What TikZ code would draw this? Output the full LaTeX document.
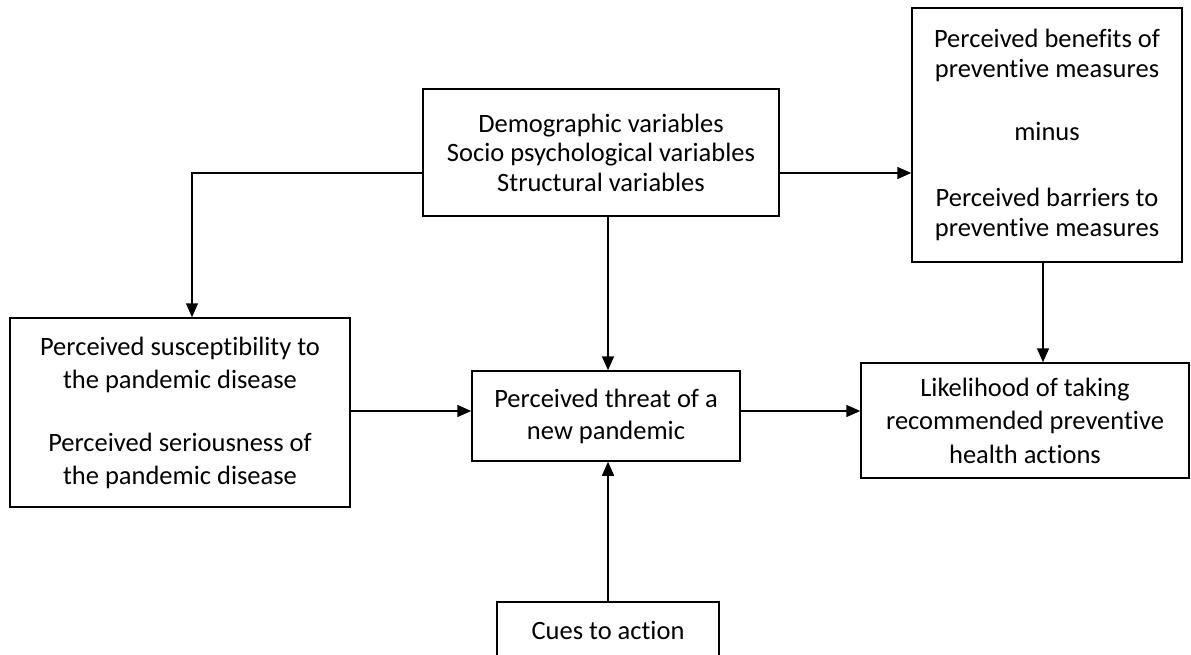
\documentclass[tikz,border=0pt]{standalone}
\usepackage{fontspec}
\setmainfont{Carlito}[Ligatures={NoCommon,NoContextual}]
\usetikzlibrary{arrows.meta}
\begin{document}
\begin{tikzpicture}[x=1pt,y=-1pt,
  box/.style={draw,line width=1.5pt,inner sep=0pt,align=center,font=\fontsize{26.5}{32}\selectfont},
  arr/.style={line width=1.5pt,-{Triangle[length=14pt,width=12pt]}}]
\useasboundingbox (0,0) rectangle (1191,654);
\clip (0,0) rectangle (1191,654);
\node[box,minimum width=356pt,minimum height=127pt,font=\fontsize{26.5}{29.5}\selectfont] (demo) at (601,152.5)
  {Demographic variables\\Socio psychological variables\\Structural variables};
\node[box,minimum width=270pt,minimum height=254pt,font=\fontsize{26.5}{30}\selectfont] (ben) at (1047,135)
  {Perceived benefits of\\preventive measures\\[33pt]minus\\[36pt]Perceived barriers to\\preventive measures};
\node[box,minimum width=340pt,minimum height=189pt,font=\fontsize{26.5}{33}\selectfont] (susc) at (180,412.5)
  {Perceived susceptibility to\\the pandemic disease\\[30pt]Perceived seriousness of\\the pandemic disease};
\node[box,minimum width=268pt,minimum height=90pt] (threat) at (606,416)
  {Perceived threat of a\\new pandemic};
\node[box,minimum width=328pt,minimum height=115pt,font=\fontsize{26.5}{33.5}\selectfont] (like) at (1025,420.5)
  {Likelihood of taking\\recommended preventive\\health actions};
\node[box,minimum width=222pt,minimum height=56pt] (cues) at (608,630) {Cues to action};
\coordinate (j1) at (192,173);
\coordinate (vx) at (608,0);
\coordinate (vb) at (1043,0);
\coordinate (hy) at (0,411);
\draw[arr] (j1 -| demo.west) -- (j1) -- (j1 |- susc.north);
\draw[arr] (j1 -| demo.east) -- (j1 -| ben.west);
\draw[arr] (vx |- demo.south) -- (vx |- threat.north);
\draw[arr] (hy -| susc.east) -- (hy -| threat.west);
\draw[arr] (hy -| threat.east) -- (hy -| like.west);
\draw[arr] (vb |- ben.south) -- (vb |- like.north);
\draw[arr] (vx |- cues.north) -- (vx |- threat.south);
\end{tikzpicture}
\end{document}
